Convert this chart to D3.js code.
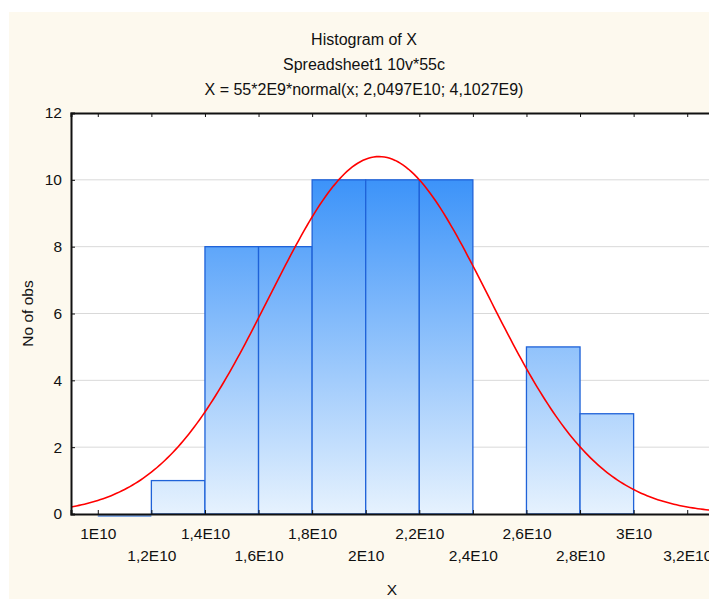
<!DOCTYPE html>
<html>
<head>
<meta charset="utf-8">
<script src="https://cdn.jsdelivr.net/npm/d3@7"></script>
<style>
  body { margin: 0; background: #fff; }
  svg text { font-family: "Liberation Sans", Arial, sans-serif; fill: #111; }
</style>
</head>
<body>
<div id="chart"></div>
<script>
// bin edges and counts (55 observations)
var binStart = [1.0e10, 1.2e10, 1.4e10, 1.6e10, 1.8e10, 2.0e10, 2.2e10, 2.6e10, 2.8e10];
var binEnd   = [1.2e10, 1.4e10, 1.6e10, 1.8e10, 2.0e10, 2.2e10, 2.4e10, 2.8e10, 3.0e10];
var counts   = [0, 1, 8, 8, 10, 10, 10, 5, 3];

var xTicks = [1e10, 1.2e10, 1.4e10, 1.6e10, 1.8e10, 2e10, 2.2e10, 2.4e10, 2.6e10, 2.8e10, 3e10, 3.2e10];
var xTickLabels = ["1E10", "1,2E10", "1,4E10", "1,6E10", "1,8E10", "2E10", "2,2E10", "2,4E10", "2,6E10", "2,8E10", "3E10", "3,2E10"];
var yTicks = [0, 2, 4, 6, 8, 10, 12];

// fitted normal: 55*2E9*normal(x; mean; sd)
var nObs = 55, binWidth = 2e9, mean = 2.0497e10, sd = 4.1027e9;

var W = 709, H = 599;
var margin = {top: 113, right: -5, bottom: 85, left: 71},
    width = W - margin.left - margin.right,
    height = H - margin.top - margin.bottom;

var svg = d3.select("#chart").append("svg")
    .attr("width", W)
    .attr("height", H);

// cream background
svg.append("rect")
    .attr("x", 9).attr("y", 12)
    .attr("width", W - 9).attr("height", H - 12)
    .attr("fill", "#fdf9ee");

var defs = svg.append("defs");
var g = svg.append("g")
    .attr("transform", "translate(" + margin.left + "," + margin.top + ")");

var x = d3.scaleLinear()
    .domain([9e9, 3.3e10])
    .range([0, width]);
var y = d3.scaleLinear()
    .domain([0, 12])
    .range([height, 0]);

defs.append("clipPath").attr("id", "plotclip")
  .append("rect").attr("width", width).attr("height", height);

var grad = defs.append("linearGradient")
    .attr("id", "bargrad")
    .attr("gradientUnits", "userSpaceOnUse")
    .attr("x1", 0).attr("x2", 0)
    .attr("y1", y(12)).attr("y2", y(0));
grad.append("stop").attr("offset", "0%").attr("stop-color", "#1a80f8");
grad.append("stop").attr("offset", "100%").attr("stop-color", "#e6f2fe");

// plot area
g.append("rect")
    .attr("width", width).attr("height", height)
    .attr("fill", "#fff");

// gridlines
g.selectAll(".grid")
    .data(yTicks.filter(function (d) { return d > 0 && d < 12; }))
  .enter().append("line")
    .attr("x1", 0).attr("x2", width)
    .attr("y1", function (d) { return y(d); })
    .attr("y2", function (d) { return y(d); })
    .attr("stroke", "#d9d9d9")
    .attr("stroke-width", 1);

// bars
var bins = counts.map(function (c, i) { return {x0: binStart[i], x1: binEnd[i], n: c}; });
g.selectAll(".bar")
    .data(bins.filter(function (d) { return d.n > 0; }))
  .enter().append("rect")
    .attr("class", "bar")
    .attr("x", function (d) { return x(d.x0); })
    .attr("y", function (d) { return y(d.n); })
    .attr("width", function (d) { return x(d.x1) - x(d.x0); })
    .attr("height", function (d) { return y(0) - y(d.n); })
    .attr("fill", "url(#bargrad)")
    .attr("stroke", "#1f62d8")
    .attr("stroke-width", 1.3);

// empty bin drawn as a line just under the axis
g.selectAll(".zero")
    .data(bins.filter(function (d) { return d.n === 0; }))
  .enter().append("line")
    .attr("x1", function (d) { return x(d.x0); })
    .attr("x2", function (d) { return x(d.x1); })
    .attr("y1", y(0) + 2).attr("y2", y(0) + 2)
    .attr("stroke", "#5b8fe0")
    .attr("stroke-width", 1.3);

// normal curve
var curveX = d3.range(9e9, 3.31e10, 1e8);
var curvePts = curveX.map(function (v) {
    var z = (v - mean) / sd;
    return [v, nObs * binWidth * Math.exp(-0.5 * z * z) / (sd * Math.sqrt(2 * Math.PI))];
});
g.append("path")
    .datum(curvePts)
    .attr("clip-path", "url(#plotclip)")
    .attr("fill", "none")
    .attr("stroke", "#ff0000")
    .attr("stroke-width", 1.6)
    .attr("d", d3.line()
        .x(function (d) { return x(d[0]); })
        .y(function (d) { return y(d[1]); }));

// axes
var xAxis = g.append("g")
    .attr("transform", "translate(0," + height + ")")
    .call(d3.axisBottom(x).tickValues(xTicks).tickSize(-4).tickPadding(0)
        .tickFormat(function (d, i) { return xTickLabels[i]; }));
xAxis.selectAll("text")
    .attr("y", function (d, i) { return i % 2 === 0 ? 25 : 47; })
    .attr("dy", null)
    .style("font-size", "15.5px");

g.append("g")
    .call(d3.axisTop(x).tickValues(xTicks).tickSize(-4).tickFormat(""));

var yAxis = g.append("g")
    .call(d3.axisLeft(y).tickValues(yTicks).tickSize(-4).tickPadding(9));
yAxis.selectAll("text").style("font-size", "15.5px");

g.selectAll(".domain")
    .attr("stroke", "#111")
    .attr("stroke-width", 2);
g.selectAll(".tick line").attr("stroke", "#111");

// titles
var titles = ["Histogram of X", "Spreadsheet1 10v*55c", "X = 55*2E9*normal(x; 2,0497E10; 4,1027E9)"];
svg.selectAll(".title")
    .data(titles)
  .enter().append("text")
    .attr("x", 364)
    .attr("y", function (d, i) { return 45 + i * 25; })
    .attr("text-anchor", "middle")
    .style("font-size", "16px")
    .text(function (d) { return d; });

svg.append("text")
    .attr("x", margin.left + x(2.1e10) - 0.5)
    .attr("y", 595)
    .attr("text-anchor", "middle")
    .style("font-size", "15.5px")
    .text("X");

svg.append("text")
    .attr("transform", "translate(33," + (margin.top + height / 2) + ") rotate(-90)")
    .attr("text-anchor", "middle")
    .style("font-size", "15.5px")
    .text("No of obs");
</script>
</body>
</html>
